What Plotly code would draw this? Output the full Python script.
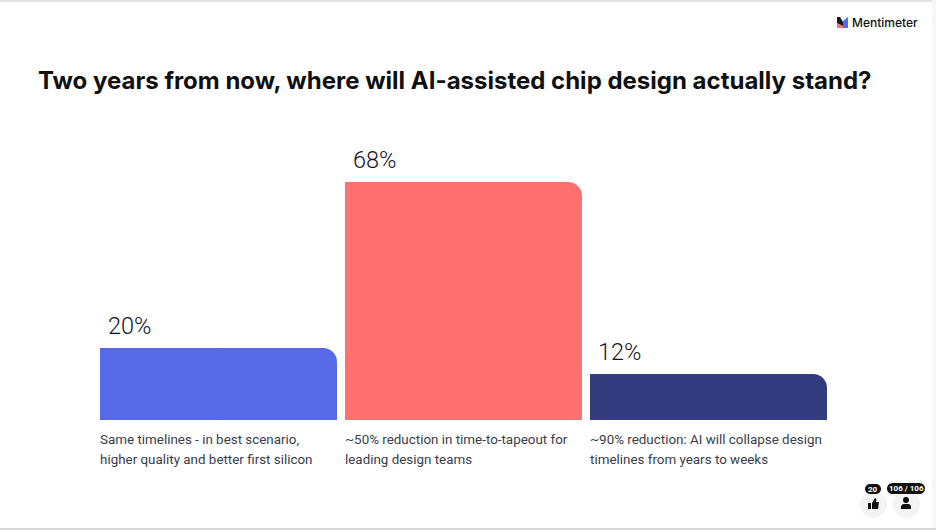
import plotly.graph_objects as go

W, H = 936, 530

title = "Two years from now, where will AI-assisted chip design actually stand?"
categories = [
    ["Same timelines - in best scenario,", "higher quality and better first silicon"],
    ["~50% reduction in time-to-tapeout for", "leading design teams"],
    ["~90% reduction: AI will collapse design", "timelines from years to weeks"],
]
# bar heights as drawn in the picture, the printed labels are rounded differently
bar_heights = [20.57, 68, 13.14]
value_labels = ["20%", "68%", "12%"]
colors = ["#5769E7", "#FF7171", "#323C7E"]
likes = "20"
voters = "106 / 106"

BAR_WIDTH = 237 / 245
TITLE_FONT = "Inter"
TEXT_FONT = "Roboto"


def px(x):
    return x / W


def py(y):
    return 1 - y / H


def box(kind, x0, y0, x1, y1, color):
    return dict(type=kind, xref="paper", yref="paper", x0=px(x0), x1=px(x1), y0=py(y0), y1=py(y1),
                fillcolor=color, line_width=0, layer="above")


def poly(points, color):
    d = "M " + " L ".join(f"{px(x):.5f},{py(y):.5f}" for x, y in points) + " Z"
    return dict(type="path", xref="paper", yref="paper", path=d, fillcolor=color, line_width=0, layer="above")


def pill(x0, x1, y0, y1, color):
    r = (y1 - y0) / 2
    return [box("circle", x0, y0, x0 + 2 * r, y1, color),
            box("circle", x1 - 2 * r, y0, x1, y1, color),
            box("rect", x0 + r, y0, x1 - r, y1, color)]


bar_names = [" ".join(c) for c in categories]

fig = go.Figure()
# rounded bar underneath, square half on top so only the top right corner is round
fig.add_trace(go.Bar(x=bar_names, y=bar_heights, width=BAR_WIDTH, offset=-BAR_WIDTH / 2,
                     marker=dict(color=colors, cornerradius=14, line_width=0), hoverinfo="skip"))
fig.add_trace(go.Bar(x=bar_names, y=bar_heights, width=BAR_WIDTH / 2, offset=-BAR_WIDTH / 2,
                     marker=dict(color=colors, line_width=0), hoverinfo="skip"))

for i, (lines, val, lab) in enumerate(zip(categories, bar_heights, value_labels)):
    fig.add_annotation(x=i - BAR_WIDTH / 2, y=val, text=lab, showarrow=False, xanchor="left", yanchor="bottom",
                       xshift=6, yshift=6, font=dict(family=TEXT_FONT, size=23.5, weight=300, color="#14141e"))
    for n, line in enumerate(lines):
        fig.add_annotation(x=i - BAR_WIDTH / 2, y=0, text=line, showarrow=False, xanchor="left", yanchor="top",
                           xshift=-2, yshift=-9.5 - 20.5 * n, font=dict(family=TEXT_FONT, size=13.4, color="#3a3d4a"))

shapes = [
    # page edges
    box("rect", 0, 0, W, 2, "#e4e4e4"),
    box("rect", 932, 0, W, H, "#f6f6f6"),
    box("rect", 0, 528, W, H, "#d8d8d8"),
    # logo
    poly([(837, 23), (843, 26), (843, 28), (837, 28)], "#FF7171"),
    poly([(837, 17), (840, 17), (843, 22), (843, 26), (837, 23)], "#101834"),
    poly([(843, 21), (848, 17), (848, 28), (843, 28)], "#5769E7"),
    # reaction buttons
    box("circle", 860, 491, 887, 518, "#F4F4F4"),
    box("circle", 893, 491, 920, 518, "#F4F4F4"),
    # thumb
    box("rect", 868, 503, 871, 509, "#111111"),
    poly([(872, 503), (875, 498), (876.5, 499), (876, 502), (879, 502), (878, 509), (872, 509)], "#111111"),
    # person
    box("circle", 903, 497, 909, 503, "#111111"),
    poly([(901, 509), (901, 506), (903, 504), (909, 504), (911, 506), (911, 509)], "#111111"),
]
# count badges
shapes += pill(865, 881, 484, 494, "#111111")
shapes += pill(887, 925, 483, 494, "#111111")

fig.add_annotation(xref="paper", yref="paper", x=px(850), y=py(23), text="Mentimeter", showarrow=False,
                   xanchor="left", yanchor="middle", font=dict(family="Inter", size=12, weight=500, color="#111111"))
fig.add_annotation(xref="paper", yref="paper", x=px(873), y=py(489), text=likes, showarrow=False,
                   xanchor="center", yanchor="middle", font=dict(family=TEXT_FONT, size=8, weight=700, color="white"))
fig.add_annotation(xref="paper", yref="paper", x=px(906), y=py(488.5), text=voters, showarrow=False,
                   xanchor="center", yanchor="middle", font=dict(family=TEXT_FONT, size=8, weight=700, color="white"))

fig.update_layout(
    width=W, height=H,
    margin=dict(l=0, r=0, t=0, b=0),
    paper_bgcolor="white", plot_bgcolor="white",
    barmode="overlay", showlegend=False,
    title=dict(text=title, x=px(38), xanchor="left", y=py(81), yanchor="middle",
               font=dict(family=TITLE_FONT, size=24, color="#101010", weight=700)),
    shapes=shapes,
)
fig.update_xaxes(range=[-218.5 / 245, (W - 218.5) / 245], visible=False)
fig.update_yaxes(range=[-(H - 420) / 3.5, 420 / 3.5], visible=False)

fig.write_html("out.html", config=dict(displayModeBar=False),
               post_script="document.body.style.margin='0';document.body.style.overflow='hidden';")
